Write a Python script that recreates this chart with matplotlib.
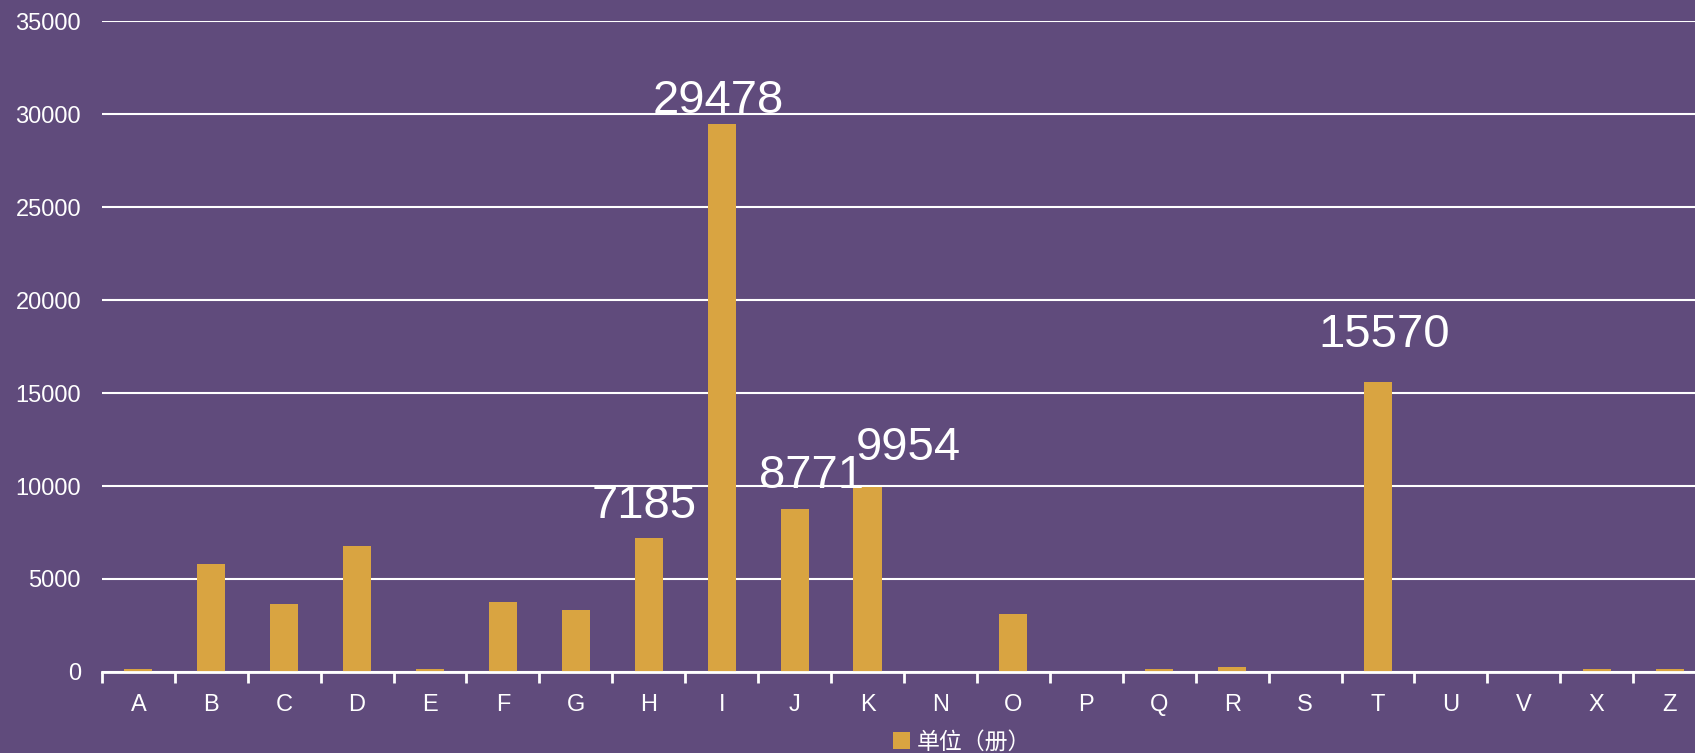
import matplotlib
matplotlib.use("Agg")
import matplotlib.pyplot as plt
from matplotlib.patches import Patch

# data
categories = ["A", "B", "C", "D", "E", "F", "G", "H", "I", "J", "K",
              "N", "O", "P", "Q", "R", "S", "T", "U", "V", "X", "Z"]
values = [150, 5800, 3650, 6790, 150, 3770, 3310, 7185, 29478, 8771, 9954,
          0, 3130, 0, 150, 280, 0, 15570, 0, 0, 150, 150]
labelled = ["H", "I", "J", "K", "T"]
# label nudges in pixels (dx, dy) - Excel moved some to avoid overlap
label_shift = {"H": (-5, 20), "I": (-3, 11), "J": (17, 21), "K": (41, 27), "T": (6, 35)}
series_name = "单位（册）"

bg = "#604B7C"
bar_col = "#D9A441"

plt.rcParams['font.family'] = ['Liberation Sans', 'Noto Sans CJK SC']

fig = plt.figure(figsize=(16.95, 7.53), dpi=100)
fig.patch.set_facecolor(bg)
# plot area runs a little past the right edge, as in the source
ax = fig.add_axes([0.0601, 0.1076, 0.9465, 0.8644])
ax.set_facecolor(bg)

x = range(len(categories))
bars = ax.bar(x, values, width=0.386, color=bar_col, zorder=3)

ax.set_ylim(0, 35000)
ax.set_xlim(-0.5, len(categories) - 0.5)
ax.set_yticks(range(0, 35001, 5000))
ax.yaxis.grid(True, color="white", linewidth=1.5, zorder=1)
ax.tick_params(axis="y", length=0, colors="white", labelsize=17, pad=15)

ax.set_xticks(list(x))
ax.set_xticklabels(categories)
ax.set_xticks([i - 0.5 for i in range(len(categories) + 1)], minor=True)
ax.tick_params(axis="x", which="major", length=0, colors="white", labelsize=17, pad=16)
ax.tick_params(axis="x", which="minor", length=8, width=2, color="white", direction="out")

for s in ["top", "right", "left"]:
    ax.spines[s].set_visible(False)
ax.spines["bottom"].set_color("white")
ax.spines["bottom"].set_linewidth(2)
ax.spines["bottom"].set_zorder(4)

for i, cat in enumerate(categories):
    if cat in labelled:
        dx, dy = label_shift[cat]
        ax.annotate(str(values[i]), (i, values[i]), xytext=(dx, dy),
                    textcoords="offset pixels", ha="center", va="baseline",
                    color="white", fontsize=34, zorder=5)

handle = Patch(facecolor=bar_col, edgecolor="none")
fig.legend([handle], [series_name], loc="center", bbox_to_anchor=(962 / 1695, 1 - 742 / 753),
           frameon=False, fontsize=16.5, labelcolor="white", handlelength=0.75,
           handleheight=0.75, handletextpad=0.3)

fig.savefig("out.png", dpi=100, facecolor=bg)
